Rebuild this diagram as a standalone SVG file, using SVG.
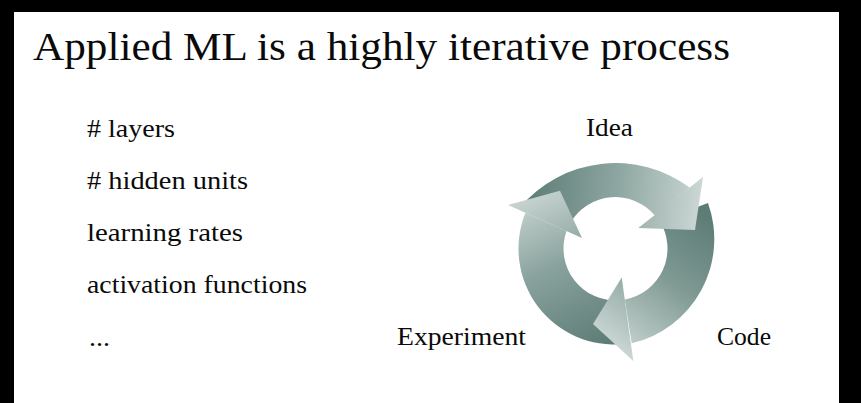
<svg xmlns="http://www.w3.org/2000/svg" width="861" height="403" viewBox="0 0 861 403">
  <defs>
    <style>
      .t { font-family: "Liberation Serif", "Times New Roman", serif; fill: #0a0a0a; }
      .title { font-size: 41px; }
      .item { font-size: 25px; }
      .arrow { stroke: none; }
    </style>
    <!-- each arrow runs dark at its tail to pale at its head -->
    <linearGradient id="gradTop" gradientUnits="userSpaceOnUse" x1="535" y1="200" x2="700" y2="215">
      <stop offset="0" stop-color="#62807a"/>
      <stop offset="0.5" stop-color="#8fa7a2"/>
      <stop offset="1" stop-color="#cbd7d4"/>
    </linearGradient>
    <linearGradient id="gradRight" gradientUnits="userSpaceOnUse" x1="705" y1="215" x2="610" y2="345">
      <stop offset="0" stop-color="#5e7c76"/>
      <stop offset="0.45" stop-color="#7f9993"/>
      <stop offset="1" stop-color="#cbd7d4"/>
    </linearGradient>
    <linearGradient id="gradLeft" gradientUnits="userSpaceOnUse" x1="600" y1="345" x2="530" y2="200">
      <stop offset="0" stop-color="#5f7d77"/>
      <stop offset="0.55" stop-color="#88a19c"/>
      <stop offset="1" stop-color="#c4d1ce"/>
    </linearGradient>
  </defs>

  <!-- slide frame -->
  <rect width="861" height="403" fill="#000000"/>
  <rect x="14" y="12" width="825" height="391" fill="#ffffff"/>

  <g id="title">
    <text class="t title" x="33" y="60" textLength="697" lengthAdjust="spacingAndGlyphs">Applied ML is a highly iterative process</text>
  </g>

  <g id="hyperparameters">
    <text class="t item" x="87" y="137" textLength="88" lengthAdjust="spacingAndGlyphs"># layers</text>
    <text class="t item" x="87" y="189" textLength="161" lengthAdjust="spacingAndGlyphs"># hidden units</text>
    <text class="t item" x="87" y="241" textLength="156" lengthAdjust="spacingAndGlyphs">learning rates</text>
    <text class="t item" x="87" y="293" textLength="220" lengthAdjust="spacingAndGlyphs">activation functions</text>
    <text class="t item" x="89" y="346" textLength="21" lengthAdjust="spacingAndGlyphs">...</text>
  </g>

  <!-- cycle: shafts first, heads on top so each head covers the next tail -->
  <g id="connectors">
    <path id="shaft-idea-code" class="arrow" fill="url(#gradTop)"
          d="M 520,207.3 A 125 125 0 0 1 689.7,187.5 L 655.1,215.8 A 52 52 0 0 0 570.5,222.5 Z"/>
    <path id="shaft-code-experiment" class="arrow" fill="url(#gradRight)"
          d="M 708,203 A 107 107 0 0 1 631.7,343.3 L 624.8,299.6 A 52 52 0 0 0 659.6,220.9 Z"/>
    <path id="shaft-experiment-idea" class="arrow" fill="url(#gradLeft)"
          d="M 623.9,344.1 A 96 96 0 0 1 525.4,212.8 L 566.5,231.1 A 52 52 0 0 0 620,300.3 Z"/>
    <polygon id="head-code" class="arrow" fill="url(#gradTop)" points="703,177 695,230 638.3,228"/>
    <polygon id="head-experiment" class="arrow" fill="url(#gradRight)" points="621.7,277.5 593,324 633.3,361"/>
    <polygon id="head-idea" class="arrow" fill="url(#gradLeft)" points="508,205 560,190.7 582,238"/>
  </g>

  <g id="node-idea">
    <text class="t item" x="586" y="136" textLength="47" lengthAdjust="spacingAndGlyphs">Idea</text>
  </g>
  <g id="node-code">
    <text class="t item" x="717" y="345" textLength="54" lengthAdjust="spacingAndGlyphs">Code</text>
  </g>
  <g id="node-experiment">
    <text class="t item" x="397" y="345" textLength="129" lengthAdjust="spacingAndGlyphs">Experiment</text>
  </g>
</svg>
